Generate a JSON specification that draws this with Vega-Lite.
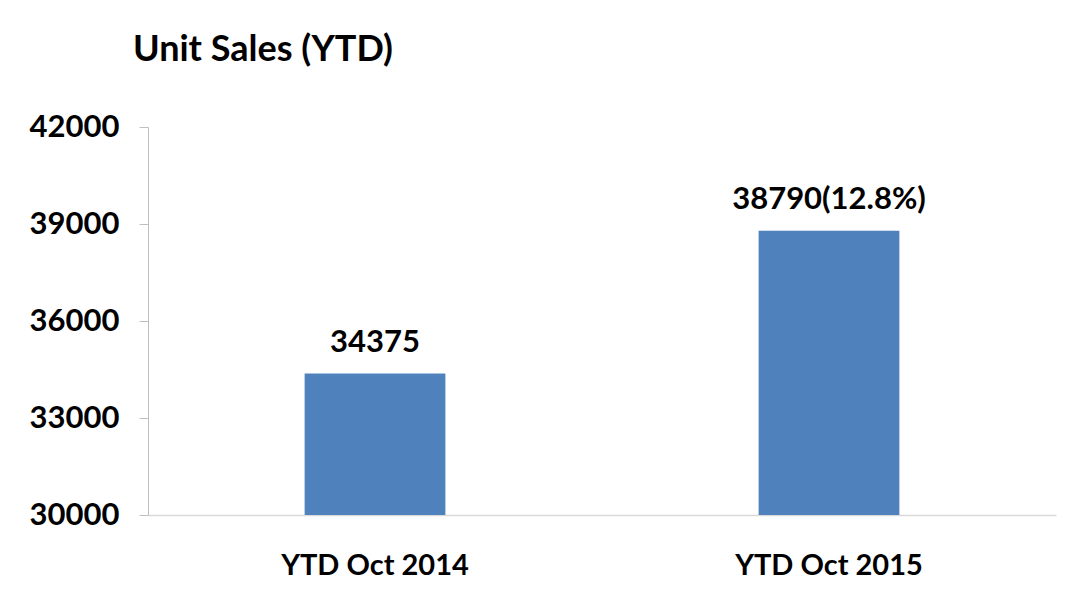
{
  "$schema": "https://vega.github.io/schema/vega-lite/v6.json",
  "autosize": {"type": "none"},
  "width": 908,
  "height": 388,
  "padding": {"left": 148, "top": 127, "right": 15, "bottom": 87},
  "background": "white",
  "config": {
    "view": {"stroke": null},
    "font": "Lato",
    "axis": {"grid": false}
  },
  "title": {
    "text": "Unit Sales (YTD)",
    "anchor": "start",
    "frame": "group",
    "dx": -15,
    "offset": 42,
    "fontSize": 36,
    "fontWeight": "bold",
    "font": "Lato",
    "color": "#000000"
  },
  "data": {
    "values": [
      {"period": "YTD Oct 2014", "sales": 34375, "label": "34375"},
      {"period": "YTD Oct 2015", "sales": 38790, "label": "38790(12.8%)"}
    ]
  },
  "encoding": {
    "x": {
      "field": "period",
      "type": "nominal",
      "sort": null,
      "scale": {"paddingInner": 0, "paddingOuter": 0},
      "axis": {
        "title": null,
        "labelAngle": 0,
        "ticks": false,
        "domainColor": "#d9d9d9",
        "domainWidth": 1.5,
        "labelFontSize": 29,
        "labelFontWeight": "bold",
        "labelColor": "#000000",
        "labelPadding": 36,
        "labelLimit": 400,
        "labelFont": "Lato"
      }
    },
    "y": {
      "field": "sales",
      "type": "quantitative",
      "scale": {"domain": [30000, 42000], "zero": false, "nice": false},
      "axis": {
        "title": null,
        "values": [30000, 33000, 36000, 39000, 42000],
        "format": "d",
        "domainColor": "#bfbfbf",
        "tickColor": "#bfbfbf",
        "tickSize": 9,
        "labelFontSize": 31,
        "labelFontWeight": "bold",
        "labelColor": "#000000",
        "labelPadding": 20,
        "labelFont": "Lato"
      }
    }
  },
  "layer": [
    {
      "mark": {"type": "bar", "color": "#4F81BD", "width": {"band": 0.31}, "clip": true}
    },
    {
      "mark": {
        "type": "text",
        "baseline": "alphabetic",
        "dy": -22,
        "fontSize": 31,
        "fontWeight": "bold",
        "font": "Lato",
        "color": "#000000"
      },
      "encoding": {"text": {"field": "label"}}
    }
  ]
}
